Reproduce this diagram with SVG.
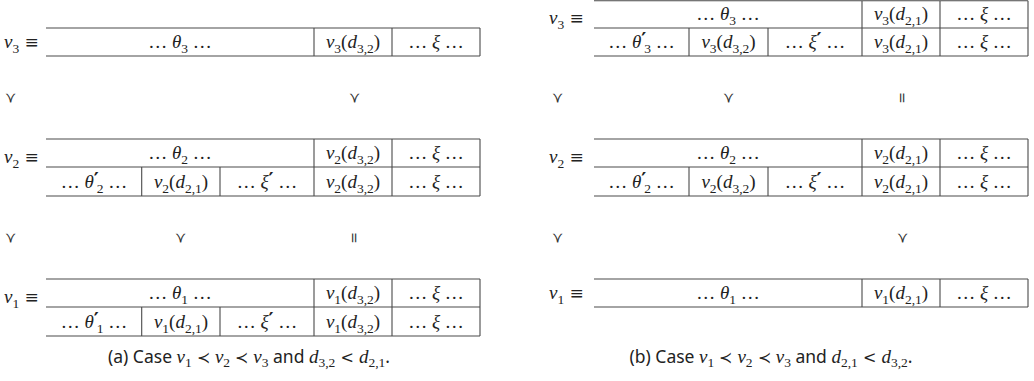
<svg xmlns="http://www.w3.org/2000/svg" width="1034" height="381" viewBox="0 0 1034 381">
<style>
.ln{stroke:#4a4a4a;stroke-width:1.1;fill:none}
.m{font-family:"Liberation Serif","DejaVu Serif",serif;font-size:19px;fill:#222}
.c{text-anchor:middle}
.i{font-style:italic}
.sb{font-size:13.5px;font-style:normal}
.pr{font-family:"DejaVu Sans",sans-serif;font-size:19px;font-style:normal;font-weight:bold}
.eq{font-family:"DejaVu Serif",serif;font-size:17px}
.rel{font-family:"DejaVu Serif",serif;font-size:14px;fill:#333;text-anchor:middle;dominant-baseline:central}
.cap{font-family:"Noto Sans","DejaVu Sans",sans-serif;font-size:17.5px;fill:#222;text-anchor:middle}
.cm{font-family:"Liberation Serif","DejaVu Serif",serif;font-style:italic;font-size:19px}
.cs{font-family:"Liberation Serif",serif;font-style:normal;font-size:13.5px}
.op{font-family:"DejaVu Serif",serif;font-style:normal;font-size:16px}
</style>

<!-- ================= Panel (a) ================= -->
<g id="a-v3">
  <text class="m" x="4" y="48"><tspan class="i">v</tspan><tspan class="sb" dy="4.5">3</tspan><tspan class="eq" dy="-4.5"> ≡</tspan></text>
  <path class="ln" d="M46 28H480M46 56H480M314 28V56M392 28V56M480 28V56"/>
  <text class="m c" x="180" y="48">… <tspan class="i">θ</tspan><tspan class="sb" dy="4.5">3</tspan><tspan dy="-4.5"> …</tspan></text>
  <text class="m c" x="353" y="48"><tspan class="i">v</tspan><tspan class="sb" dy="4.5">3</tspan><tspan dy="-4.5">(</tspan><tspan class="i">d</tspan><tspan class="sb" dy="4.5">3,2</tspan><tspan dy="-4.5">)</tspan></text>
  <text class="m c" x="436" y="48">… <tspan class="i">ξ</tspan> …</text>
</g>

<g id="a-v2">
  <text class="m" x="4" y="163"><tspan class="i">v</tspan><tspan class="sb" dy="4.5">2</tspan><tspan class="eq" dy="-4.5"> ≡</tspan></text>
  <path class="ln" d="M46 139H480M46 167H480M46 196H480M314 139V196M392 139V196M480 139V196M141.7 167V196M220 167V196"/>
  <text class="m c" x="180" y="159">… <tspan class="i">θ</tspan><tspan class="sb" dy="4.5">2</tspan><tspan dy="-4.5"> …</tspan></text>
  <text class="m c" x="353" y="159"><tspan class="i">v</tspan><tspan class="sb" dy="4.5">2</tspan><tspan dy="-4.5">(</tspan><tspan class="i">d</tspan><tspan class="sb" dy="4.5">3,2</tspan><tspan dy="-4.5">)</tspan></text>
  <text class="m c" x="436" y="159">… <tspan class="i">ξ</tspan> …</text>
  <text class="m c" x="94" y="188">… <tspan class="i">θ</tspan><tspan class="pr" dy="-2">′</tspan><tspan class="sb" dx="-2" dy="6.5">2</tspan><tspan dy="-4.5"> …</tspan></text>
  <text class="m c" x="181" y="188"><tspan class="i">v</tspan><tspan class="sb" dy="4.5">2</tspan><tspan dy="-4.5">(</tspan><tspan class="i">d</tspan><tspan class="sb" dy="4.5">2,1</tspan><tspan dy="-4.5">)</tspan></text>
  <text class="m c" x="267" y="188">… <tspan class="i">ξ</tspan><tspan class="pr" dy="-2">′</tspan><tspan dy="2"> …</tspan></text>
  <text class="m c" x="353" y="188"><tspan class="i">v</tspan><tspan class="sb" dy="4.5">2</tspan><tspan dy="-4.5">(</tspan><tspan class="i">d</tspan><tspan class="sb" dy="4.5">3,2</tspan><tspan dy="-4.5">)</tspan></text>
  <text class="m c" x="436" y="188">… <tspan class="i">ξ</tspan> …</text>
</g>

<g id="a-v1">
  <text class="m" x="4" y="303"><tspan class="i">v</tspan><tspan class="sb" dy="4.5">1</tspan><tspan class="eq" dy="-4.5"> ≡</tspan></text>
  <path class="ln" d="M46 279H480M46 307H480M46 336H480M314 279V336M392 279V336M480 279V336M141.7 307V336M220 307V336"/>
  <text class="m c" x="180" y="299">… <tspan class="i">θ</tspan><tspan class="sb" dy="4.5">1</tspan><tspan dy="-4.5"> …</tspan></text>
  <text class="m c" x="353" y="299"><tspan class="i">v</tspan><tspan class="sb" dy="4.5">1</tspan><tspan dy="-4.5">(</tspan><tspan class="i">d</tspan><tspan class="sb" dy="4.5">3,2</tspan><tspan dy="-4.5">)</tspan></text>
  <text class="m c" x="436" y="299">… <tspan class="i">ξ</tspan> …</text>
  <text class="m c" x="94" y="328">… <tspan class="i">θ</tspan><tspan class="pr" dy="-2">′</tspan><tspan class="sb" dx="-2" dy="6.5">1</tspan><tspan dy="-4.5"> …</tspan></text>
  <text class="m c" x="181" y="328"><tspan class="i">v</tspan><tspan class="sb" dy="4.5">1</tspan><tspan dy="-4.5">(</tspan><tspan class="i">d</tspan><tspan class="sb" dy="4.5">2,1</tspan><tspan dy="-4.5">)</tspan></text>
  <text class="m c" x="267" y="328">… <tspan class="i">ξ</tspan><tspan class="pr" dy="-2">′</tspan><tspan dy="2"> …</tspan></text>
  <text class="m c" x="353" y="328"><tspan class="i">v</tspan><tspan class="sb" dy="4.5">1</tspan><tspan dy="-4.5">(</tspan><tspan class="i">d</tspan><tspan class="sb" dy="4.5">3,2</tspan><tspan dy="-4.5">)</tspan></text>
  <text class="m c" x="436" y="328">… <tspan class="i">ξ</tspan> …</text>
</g>

<!-- ================= Panel (b) ================= -->
<g id="b-v3">
  <text class="m" x="549" y="24"><tspan class="i">v</tspan><tspan class="sb" dy="4.5">3</tspan><tspan class="eq" dy="-4.5"> ≡</tspan></text>
  <path class="ln" d="M594 0.7H1028M594 28H1028M594 56H1028M862 0.7V56M940 0.7V56M1028 0.7V56M689 28V56M768 28V56"/>
  <text class="m c" x="728" y="20">… <tspan class="i">θ</tspan><tspan class="sb" dy="4.5">3</tspan><tspan dy="-4.5"> …</tspan></text>
  <text class="m c" x="901" y="20"><tspan class="i">v</tspan><tspan class="sb" dy="4.5">3</tspan><tspan dy="-4.5">(</tspan><tspan class="i">d</tspan><tspan class="sb" dy="4.5">2,1</tspan><tspan dy="-4.5">)</tspan></text>
  <text class="m c" x="984" y="20">… <tspan class="i">ξ</tspan> …</text>
  <text class="m c" x="641.5" y="48">… <tspan class="i">θ</tspan><tspan class="pr" dy="-2">′</tspan><tspan class="sb" dx="-2" dy="6.5">3</tspan><tspan dy="-4.5"> …</tspan></text>
  <text class="m c" x="728.5" y="48"><tspan class="i">v</tspan><tspan class="sb" dy="4.5">3</tspan><tspan dy="-4.5">(</tspan><tspan class="i">d</tspan><tspan class="sb" dy="4.5">3,2</tspan><tspan dy="-4.5">)</tspan></text>
  <text class="m c" x="815" y="48">… <tspan class="i">ξ</tspan><tspan class="pr" dy="-2">′</tspan><tspan dy="2"> …</tspan></text>
  <text class="m c" x="901" y="48"><tspan class="i">v</tspan><tspan class="sb" dy="4.5">3</tspan><tspan dy="-4.5">(</tspan><tspan class="i">d</tspan><tspan class="sb" dy="4.5">2,1</tspan><tspan dy="-4.5">)</tspan></text>
  <text class="m c" x="984" y="48">… <tspan class="i">ξ</tspan> …</text>
</g>

<g id="b-v2">
  <text class="m" x="549" y="163"><tspan class="i">v</tspan><tspan class="sb" dy="4.5">2</tspan><tspan class="eq" dy="-4.5"> ≡</tspan></text>
  <path class="ln" d="M594 139H1028M594 167H1028M594 196H1028M862 139V196M940 139V196M1028 139V196M689 167V196M768 167V196"/>
  <text class="m c" x="728" y="159">… <tspan class="i">θ</tspan><tspan class="sb" dy="4.5">2</tspan><tspan dy="-4.5"> …</tspan></text>
  <text class="m c" x="901" y="159"><tspan class="i">v</tspan><tspan class="sb" dy="4.5">2</tspan><tspan dy="-4.5">(</tspan><tspan class="i">d</tspan><tspan class="sb" dy="4.5">2,1</tspan><tspan dy="-4.5">)</tspan></text>
  <text class="m c" x="984" y="159">… <tspan class="i">ξ</tspan> …</text>
  <text class="m c" x="641.5" y="188">… <tspan class="i">θ</tspan><tspan class="pr" dy="-2">′</tspan><tspan class="sb" dx="-2" dy="6.5">2</tspan><tspan dy="-4.5"> …</tspan></text>
  <text class="m c" x="728.5" y="188"><tspan class="i">v</tspan><tspan class="sb" dy="4.5">2</tspan><tspan dy="-4.5">(</tspan><tspan class="i">d</tspan><tspan class="sb" dy="4.5">3,2</tspan><tspan dy="-4.5">)</tspan></text>
  <text class="m c" x="815" y="188">… <tspan class="i">ξ</tspan><tspan class="pr" dy="-2">′</tspan><tspan dy="2"> …</tspan></text>
  <text class="m c" x="901" y="188"><tspan class="i">v</tspan><tspan class="sb" dy="4.5">2</tspan><tspan dy="-4.5">(</tspan><tspan class="i">d</tspan><tspan class="sb" dy="4.5">2,1</tspan><tspan dy="-4.5">)</tspan></text>
  <text class="m c" x="984" y="188">… <tspan class="i">ξ</tspan> …</text>
</g>

<g id="b-v1">
  <text class="m" x="549" y="299"><tspan class="i">v</tspan><tspan class="sb" dy="4.5">1</tspan><tspan class="eq" dy="-4.5"> ≡</tspan></text>
  <path class="ln" d="M594 279H1028M594 307H1028M862 279V307M940 279V307M1028 279V307"/>
  <text class="m c" x="728" y="299">… <tspan class="i">θ</tspan><tspan class="sb" dy="4.5">1</tspan><tspan dy="-4.5"> …</tspan></text>
  <text class="m c" x="901" y="299"><tspan class="i">v</tspan><tspan class="sb" dy="4.5">1</tspan><tspan dy="-4.5">(</tspan><tspan class="i">d</tspan><tspan class="sb" dy="4.5">2,1</tspan><tspan dy="-4.5">)</tspan></text>
  <text class="m c" x="984" y="299">… <tspan class="i">ξ</tspan> …</text>
</g>

<!-- relations between rows -->
<g id="relations">
  <text class="rel" transform="translate(10 98) rotate(-90)">≺</text>
  <text class="rel" transform="translate(354 98) rotate(-90)">≺</text>
  <text class="rel" transform="translate(10 238) rotate(-90)">≺</text>
  <text class="rel" transform="translate(180 238) rotate(-90)">≺</text>
  <text class="rel" transform="translate(354 238) rotate(-90)">=</text>
  <text class="rel" transform="translate(557 98) rotate(-90)">≺</text>
  <text class="rel" transform="translate(728 98) rotate(-90)">≺</text>
  <text class="rel" transform="translate(902 98) rotate(-90)">=</text>
  <text class="rel" transform="translate(557 238) rotate(-90)">≺</text>
  <text class="rel" transform="translate(902 238) rotate(-90)">≺</text>
</g>

<g id="captions">
  <text class="cap" x="249" y="363">(a) Case <tspan class="cm">v</tspan><tspan class="cs" dy="4">1</tspan><tspan class="op" dy="-4"> ≺ </tspan><tspan class="cm">v</tspan><tspan class="cs" dy="4">2</tspan><tspan class="op" dy="-4"> ≺ </tspan><tspan class="cm">v</tspan><tspan class="cs" dy="4">3</tspan><tspan dy="-4"> and </tspan><tspan class="cm">d</tspan><tspan class="cs" dy="4">3,2</tspan><tspan class="op" dy="-4"> &lt; </tspan><tspan class="cm">d</tspan><tspan class="cs" dy="4">2,1</tspan><tspan dy="-4">.</tspan></text>
  <text class="cap" x="771" y="363">(b) Case <tspan class="cm">v</tspan><tspan class="cs" dy="4">1</tspan><tspan class="op" dy="-4"> ≺ </tspan><tspan class="cm">v</tspan><tspan class="cs" dy="4">2</tspan><tspan class="op" dy="-4"> ≺ </tspan><tspan class="cm">v</tspan><tspan class="cs" dy="4">3</tspan><tspan dy="-4"> and </tspan><tspan class="cm">d</tspan><tspan class="cs" dy="4">2,1</tspan><tspan class="op" dy="-4"> &lt; </tspan><tspan class="cm">d</tspan><tspan class="cs" dy="4">3,2</tspan><tspan dy="-4">.</tspan></text>
</g>
</svg>
